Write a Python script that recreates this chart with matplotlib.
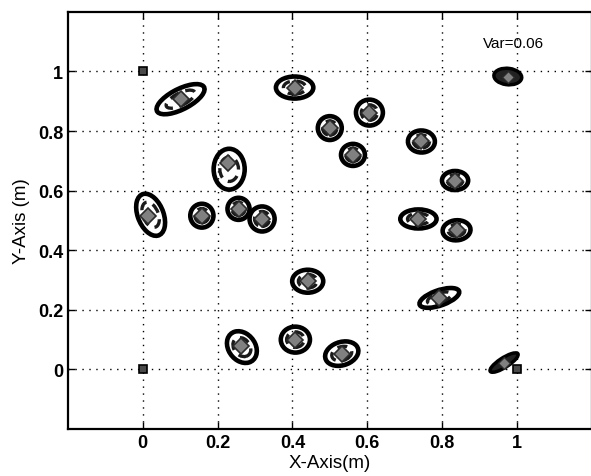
import matplotlib
matplotlib.use("Agg")
import matplotlib.pyplot as plt
from matplotlib.patches import Ellipse

plt.rcParams.update({
    "font.family": ["Liberation Sans", "DejaVu Sans"],
    "font.size": 13,
})

# anchor nodes (squares)
ANCHOR_X = [0.0, 0.0, 1.0]
ANCHOR_Y = [1.0, 0.0, 0.0]

# estimated node positions (diamonds)
NODE_X = [0.101, 0.406, 0.500, 0.606, 0.562, 0.745, 0.835, 0.228, 0.014, 0.158,
          0.256, 0.319, 0.737, 0.839, 0.441, 0.793, 0.263, 0.408, 0.532]
NODE_Y = [0.907, 0.946, 0.810, 0.862, 0.720, 0.765, 0.634, 0.694, 0.516, 0.516,
          0.539, 0.505, 0.505, 0.467, 0.296, 0.240, 0.078, 0.100, 0.053]

# uncertainty ellipses around each node
ELL_X = [0.101, 0.406, 0.500, 0.606, 0.562, 0.745, 0.835, 0.231, 0.021, 0.158,
         0.256, 0.319, 0.737, 0.839, 0.441, 0.793, 0.265, 0.408, 0.532]
ELL_Y = [0.907, 0.946, 0.810, 0.862, 0.720, 0.765, 0.634, 0.672, 0.519, 0.516,
         0.539, 0.505, 0.505, 0.467, 0.296, 0.240, 0.075, 0.100, 0.053]
ELL_W = [0.150, 0.100, 0.064, 0.072, 0.064, 0.072, 0.070, 0.083, 0.070, 0.062,
         0.059, 0.067, 0.097, 0.075, 0.083, 0.115, 0.075, 0.078, 0.095]
ELL_H = [0.065, 0.074, 0.080, 0.087, 0.074, 0.074, 0.064, 0.137, 0.145, 0.080,
         0.074, 0.084, 0.064, 0.067, 0.077, 0.050, 0.110, 0.087, 0.075]
ELL_ANG = [35, 0, 0, 0, 0, 10, 0, 0, 15, 0,
           0, 0, 0, 15, 0, 25, 20, 0, 35]

# nodes next to anchors collapse to small solid blobs
BLOB_X = [0.976, 0.966]
BLOB_Y = [0.983, 0.023]
BLOB_W = [0.075, 0.095]
BLOB_H = [0.055, 0.030]
BLOB_ANG = [-10, 40]

fig = plt.figure(figsize=(5.91, 4.77), dpi=100)
ax = fig.add_axes([0.115, 0.0985, 0.886, 0.8745])

for x, y, w, h, a in zip(ELL_X, ELL_Y, ELL_W, ELL_H, ELL_ANG):
    ax.add_patch(Ellipse((x, y), w, h, angle=a, fill=False, ec="black", lw=3.3, zorder=3))
    # inner trace of the iterates
    ax.add_patch(Ellipse((x, y), w * 0.6, h * 0.6, angle=a, fill=False, ec="#1a1a1a",
                         lw=2.4, ls=(0, (3, 2)), zorder=3))

for x, y, w, h, a in zip(BLOB_X, BLOB_Y, BLOB_W, BLOB_H, BLOB_ANG):
    ax.add_patch(Ellipse((x, y), w, h, angle=a, fc="#222222", ec="black", lw=2.5, zorder=3))

ax.plot(NODE_X, NODE_Y, ls="none", marker="D", ms=8, mfc="#808080", mec="#2a2a2a",
        mew=1.2, zorder=4)
ax.plot(BLOB_X, BLOB_Y, ls="none", marker="D", ms=6.5, mfc="#808080", mec="#2a2a2a",
        mew=1.0, zorder=4)
ax.plot(ANCHOR_X, ANCHOR_Y, ls="none", marker="s", ms=6, mfc="#4a4a4a", mec="black",
        mew=1.2, zorder=5)

ax.text(0.99, 1.095, "Var=0.06", ha="center", va="center", fontsize=11)

ax.set_xlim(-0.2, 1.2)
ax.set_ylim(-0.2, 1.2)
ax.set_xticks([0, 0.2, 0.4, 0.6, 0.8, 1])
ax.set_yticks([0, 0.2, 0.4, 0.6, 0.8, 1])
ax.set_xticklabels(["0", "0.2", "0.4", "0.6", "0.8", "1"], fontweight="bold")
ax.set_yticklabels(["0", "0.2", "0.4", "0.6", "0.8", "1"], fontweight="bold")
ax.tick_params(direction="in", top=True, right=True, length=5, width=1, labelsize=13)
ax.grid(True, ls=(0, (1, 4)), color="black", lw=1.0)
for s in ax.spines.values():
    s.set_linewidth(1.6)

ax.set_xlabel("X-Axis(m)", fontsize=13.5, labelpad=2)
ax.set_ylabel("Y-Axis (m)", fontsize=13.5, labelpad=6)

fig.savefig("out.png", dpi=100)
